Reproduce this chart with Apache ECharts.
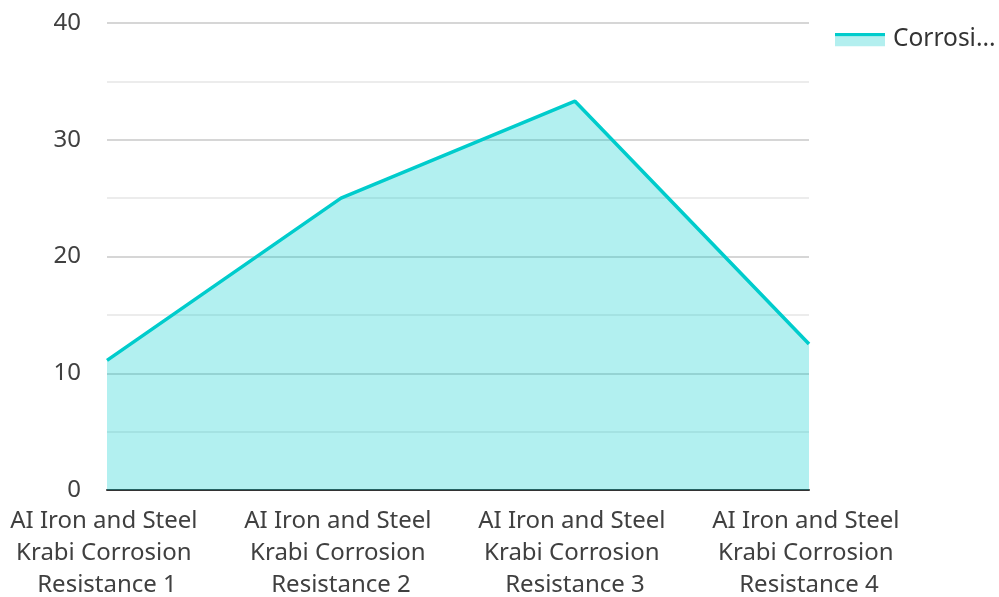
<!DOCTYPE html>
<html><head><meta charset="utf-8">
<script src="https://cdn.jsdelivr.net/npm/echarts@6/dist/echarts.min.js"></script>
<style>html,body{margin:0;padding:0;background:#fff}#c{width:999px;height:597px}</style>
</head><body><div id="c"></div>
<script>
const categories = ["AI Iron and Steel Krabi Corrosion Resistance 1","AI Iron and Steel Krabi Corrosion Resistance 2","AI Iron and Steel Krabi Corrosion Resistance 3","AI Iron and Steel Krabi Corrosion Resistance 4"];
const seriesName = "Corrosion Resistance";
const values = [11.1, 25, 33.3, 12.5];
const iconSvg = '<svg xmlns="http://www.w3.org/2000/svg" width="50" height="14" viewBox="0 0 50 14"><rect x="0" y="0" width="50" height="4" fill="#00cccc"/><rect x="0" y="4" width="50" height="10" fill="#b3efef"/></svg>';
const chart = echarts.init(document.getElementById('c'));
chart.setOption({
  animation:false,
  textStyle:{fontFamily:'Noto Sans'},
  grid:{left:107,right:190,top:23,bottom:107,outerBoundsMode:'none',containLabel:false},
  legend:{left:830,top:22,orient:'vertical',itemWidth:50,itemHeight:14,
    textStyle:{fontSize:24.5,color:'#333',fontFamily:'Noto Sans',width:108,overflow:'truncate',ellipsis:'...',padding:[0,0,0,3]},
    data:[{name:seriesName,icon:'image://data:image/svg+xml;charset=utf-8,'+encodeURIComponent(iconSvg)}]},
  xAxis:{type:'category',data:categories,boundaryGap:false,
    axisLine:{lineStyle:{color:'#333',width:2}},axisTick:{show:false},
    axisLabel:{fontSize:24,color:'#404040',lineHeight:32,width:230,overflow:'break',interval:0,margin:15,fontFamily:'Noto Sans'}},
  yAxis:{type:'value',min:0,max:40,interval:10,
    axisLine:{show:false},axisTick:{show:false},
    axisLabel:{fontSize:24,color:'#404040',margin:26,fontFamily:'Noto Sans'},
    splitLine:{lineStyle:{color:'#c8c8c8',width:1.5}},
    minorTick:{show:false,splitNumber:2},
    minorSplitLine:{show:true,lineStyle:{color:'#e6e6e6',width:1.5}}},
  series:[{name:seriesName,type:'line',data:values,symbol:'none',
    lineStyle:{color:'#00cccc',width:3.5},itemStyle:{color:'#00cccc'},
    areaStyle:{color:'#00cccc',opacity:0.3},z:1}]
});
</script></body></html>
